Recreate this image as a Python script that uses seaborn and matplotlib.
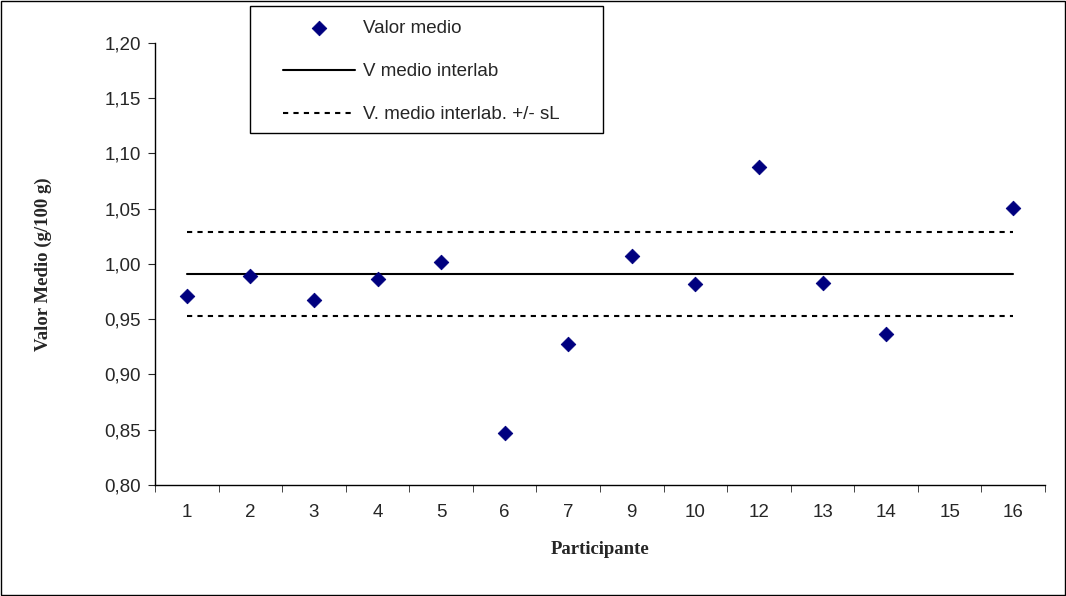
import numpy as np
import pandas as pd
import matplotlib
matplotlib.use("Agg")
import matplotlib.pyplot as plt
import seaborn as sns
from matplotlib.patches import Rectangle

participantes = ["1", "2", "3", "4", "5", "6", "7", "9", "10", "12", "13", "14", "15", "16"]
valor_medio = [0.971, 0.989, 0.967, 0.986, 1.002, 0.847, 0.928, 1.007, 0.982, 1.088, 0.983, 0.937, np.nan, 1.051]
media_interlab = 0.991
sl = 0.038

sns.set_style("white")
plt.rcParams['font.family'] = ['Liberation Sans', 'DejaVu Sans']
FS = 13.5

df = pd.DataFrame({"pos": np.arange(len(participantes)), "valor": valor_medio})
df["media"] = media_interlab
df["sup"] = media_interlab + sl
df["inf"] = media_interlab - sl

fig = plt.figure(figsize=(10.66, 5.96), dpi=100)
ax = fig.add_axes([155/1066, 1 - 485/596, 890/1066, 442/596])

sns.lineplot(data=df, x="pos", y="media", ax=ax, color="black", lw=1.5, label="V medio interlab")
sns.lineplot(data=df, x="pos", y="sup", ax=ax, color="black", lw=1.5, linestyle=(0, (2.5, 2.5)),
             label="V. medio interlab. +/- sL")
sns.lineplot(data=df, x="pos", y="inf", ax=ax, color="black", lw=1.5, linestyle=(0, (2.5, 2.5)))
sns.scatterplot(data=df.dropna(), x="pos", y="valor", ax=ax, marker="D", s=55, color="#00007f",
                edgecolor="#00007f", label="Valor medio", zorder=5)

ax.set_xlim(-0.5, len(participantes) - 0.5)
ax.set_ylim(0.80, 1.20)
ax.set_yticks(np.arange(0.80, 1.201, 0.05))
ax.set_yticklabels([f"{v:.2f}".replace(".", ",") for v in np.arange(0.80, 1.201, 0.05)], fontsize=FS)
ax.set_xticks(np.arange(len(participantes)))
ax.set_xticklabels(participantes, fontsize=FS)
ax.set_xticks(np.arange(-0.5, len(participantes), 1), minor=True)
ax.tick_params(axis="x", which="major", length=0, pad=14)
ax.tick_params(axis="x", which="minor", length=5, direction="out", bottom=True)
ax.tick_params(axis="y", length=5, direction="out", left=True, pad=5)
for s in ["top", "right"]:
    ax.spines[s].set_visible(False)
for s in ["left", "bottom"]:
    ax.spines[s].set_color("black")
    ax.spines[s].set_linewidth(1)
ax.set_xlabel("Participante", fontsize=FS, fontweight="bold", family="Liberation Serif", labelpad=14)
ax.set_ylabel("Valor Medio (g/100 g)", fontsize=FS, fontweight="bold", family="Liberation Serif", labelpad=38)

h, l = ax.get_legend_handles_labels()
ax.get_legend().remove()
order = [l.index("Valor medio"), l.index("V medio interlab"), l.index("V. medio interlab. +/- sL")]
leg = fig.legend([h[i] for i in order], [l[i] for i in order], loc="upper left",
                 bbox_to_anchor=(283/1066, 1 - 20/596), frameon=False, fontsize=FS,
                 handlelength=3.85, handletextpad=0.4, labelspacing=1.38, borderpad=0, borderaxespad=0)

# legend box (Excel style, fixed size)
fig.patches.append(Rectangle((250/1066, 1 - 133/596), 353/1066, 127/596, transform=fig.transFigure,
                             fill=False, edgecolor="black", lw=1))
fig.patches.append(Rectangle((0.5/1066, 1.5/596), 1 - 2/1066, 1 - 2.5/596, transform=fig.transFigure,
                             fill=False, edgecolor="black", lw=1))
fig.savefig("out.png", dpi=100)
